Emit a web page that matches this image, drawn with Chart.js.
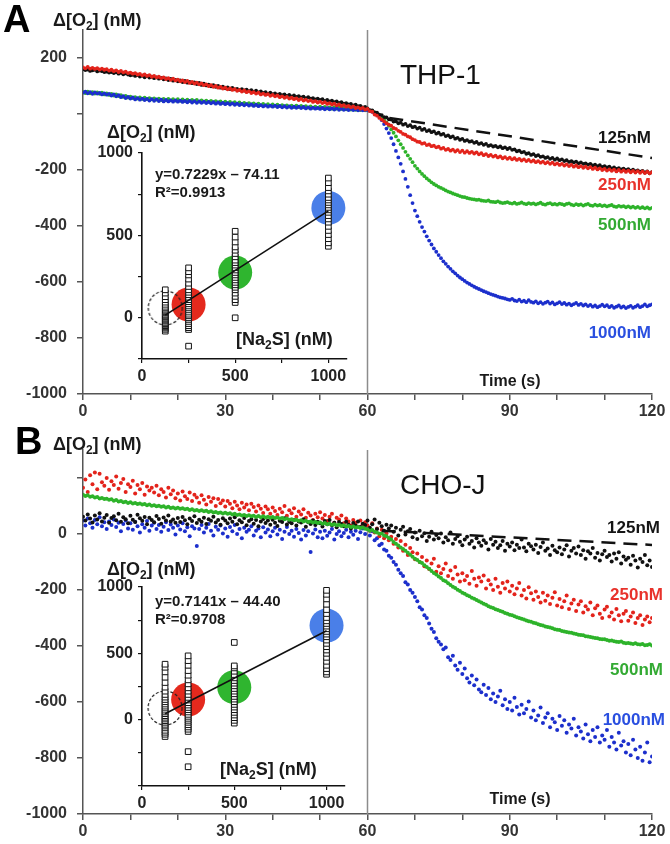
<!DOCTYPE html>
<html>
<head>
<meta charset="utf-8">
<script src="https://cdn.jsdelivr.net/npm/chart.js@4.4.1/dist/chart.umd.min.js"></script>
<style>
  body { margin: 0; background: #fff; }
  #wrap { position: relative; width: 670px; height: 844px; overflow: hidden; }
  canvas { position: absolute; }
</style>
</head>
<body>
<div id="wrap">
  <canvas id="mainA" width="670" height="424" style="left:0;top:0"></canvas>
  <canvas id="mainB" width="670" height="424" style="left:0;top:420px"></canvas>
  <canvas id="insetA" width="260" height="270" style="left:95px;top:120px"></canvas>
  <canvas id="insetB" width="260" height="265" style="left:95px;top:555px"></canvas>
</div>
<script>
// time step of the recorded traces (s); traces start at t = 0
const step = 0.5;

// ---- panel A (THP-1), delta O2 in nM ----
const blackA = [160,157,159,154,156,158,152,155,153,150,
151,148,150,146,149,144,147,142,145,141,
138,140,136,139,134,137,131,135,130,133,
128,131,126,129,124,127,121,125,119,122,
117,120,114,118,112,115,110,113,107,111,
104,108,102,105,99,103,97,100,94,98,
92,95,89,93,88,90,86,89,84,87,
82,85,80,83,77,81,75,78,73,76,
71,74,69,72,67,70,65,68,63,66,
61,64,59,62,57,60,55,57,52,55,
50,53,47,50,45,48,42,45,40,42,
37,39,34,36,31,33,28,29,24,25,
20,14,13,6,5,-2,-4,-11,-12,-19,
-20,-27,-26,-33,-31,-38,-35,-43,-40,-47,
-45,-52,-49,-57,-53,-61,-58,-65,-62,-70,
-67,-74,-71,-79,-76,-83,-80,-88,-85,-92,
-89,-96,-93,-99,-97,-103,-100,-107,-104,-110,
-107,-114,-111,-116,-114,-119,-116,-122,-119,-125,
-121,-128,-126,-133,-131,-137,-135,-142,-140,-146,
-143,-150,-147,-153,-151,-157,-154,-160,-157,-163,
-159,-165,-162,-168,-165,-171,-168,-173,-170,-176,
-173,-178,-176,-181,-178,-184,-181,-186,-183,-189,
-186,-191,-188,-194,-191,-196,-193,-198,-195,-200,
-197,-202,-199,-204,-201,-206,-203,-209,-205,-212,
-208];
const redA = [166,163,168,162,165,161,164,159,162,158,
160,155,158,153,156,150,154,149,151,146,
148,144,146,141,143,138,141,136,139,133,
136,131,133,128,131,125,128,122,126,120,
123,117,120,114,118,111,115,109,112,106,
109,103,106,100,103,97,100,94,97,91,
94,88,91,86,89,83,86,80,84,78,
81,75,78,73,76,70,73,68,71,65,
68,63,66,60,63,58,61,55,58,53,
56,50,54,48,51,46,49,43,46,41,
44,39,42,36,39,34,37,31,34,29,
32,26,29,24,27,21,24,19,22,16,
18,10,8,-2,-6,-14,-20,-26,-33,-38,
-42,-50,-53,-60,-64,-71,-74,-80,-83,-90,
-93,-99,-100,-106,-104,-111,-109,-115,-113,-119,
-117,-124,-121,-128,-125,-131,-127,-134,-129,-136,
-131,-138,-133,-139,-135,-141,-137,-144,-140,-147,
-143,-150,-146,-152,-149,-155,-151,-158,-154,-160,
-156,-162,-158,-164,-160,-166,-162,-168,-164,-170,
-166,-172,-168,-174,-170,-176,-172,-178,-174,-180,
-176,-182,-178,-184,-180,-186,-182,-188,-184,-190,
-186,-192,-188,-194,-190,-196,-192,-198,-194,-200,
-196,-202,-198,-203,-199,-205,-200,-206,-201,-207,
-202,-208,-203,-209,-204,-210,-205,-211,-206,-212,
-208];
const greenA = [79,75,80,74,78,73,77,72,76,70,
74,68,72,66,70,64,67,61,65,59,
62,57,60,55,59,54,58,53,57,52,
56,51,55,50,54,49,54,49,53,48,
53,47,52,46,51,46,50,45,50,44,
49,44,48,43,47,42,46,41,45,40,
44,39,43,38,42,37,41,36,40,35,
39,34,38,33,37,32,36,31,35,30,
34,29,33,28,32,27,31,26,30,25,
30,25,29,24,28,23,27,22,26,21,
26,21,25,20,24,19,24,19,23,18,
22,17,21,16,20,15,19,14,18,13,
15,12,10,6,2,-5,-12,-20,-30,-42,
-55,-67,-80,-94,-108,-121,-135,-148,-160,-172,
-185,-195,-205,-214,-222,-230,-237,-244,-250,-255,
-260,-264,-268,-273,-277,-280,-284,-287,-290,-293,
-296,-297,-300,-302,-304,-305,-307,-306,-309,-310,
-311,-309,-313,-314,-315,-312,-316,-318,-317,-315,
-318,-320,-317,-321,-319,-316,-320,-322,-318,-321,
-319,-323,-320,-317,-322,-324,-320,-318,-323,-321,
-324,-320,-322,-325,-321,-319,-324,-326,-322,-325,
-323,-327,-324,-321,-326,-328,-324,-327,-325,-329,
-326,-330,-327,-325,-330,-332,-328,-331,-329,-333,
-330,-334,-331,-335,-332,-336,-333,-337,-334,-338,
-335];
const blueA = [76,80,74,78,72,77,73,75,70,74,
69,72,66,70,63,67,60,64,57,61,
55,59,52,57,51,55,50,54,48,53,
47,52,46,51,45,50,45,49,44,49,
44,48,43,47,42,47,41,46,40,45,
40,44,39,43,38,42,37,41,36,40,
35,39,34,38,33,37,32,36,31,35,
30,34,29,33,28,32,27,31,26,30,
26,30,25,29,24,28,23,27,22,26,
22,26,21,25,20,24,19,23,19,22,
18,22,17,21,17,20,16,20,15,19,
15,18,14,18,14,17,13,16,13,15,
14,12,8,4,-2,-10,-22,-36,-52,-68,
-86,-108,-132,-155,-178,-205,-232,-260,-290,-318,
-345,-365,-385,-404,-420,-437,-452,-466,-480,-492,
-504,-515,-526,-535,-545,-553,-562,-569,-577,-584,
-590,-596,-602,-607,-612,-617,-621,-625,-629,-633,
-636,-640,-643,-646,-649,-652,-655,-657,-659,-662,
-664,-660,-666,-668,-663,-670,-667,-672,-665,-671,
-674,-669,-676,-672,-678,-674,-670,-677,-673,-680,
-676,-672,-679,-675,-681,-677,-683,-679,-675,-682,
-678,-684,-680,-686,-682,-688,-684,-690,-686,-681,
-687,-683,-690,-685,-692,-688,-684,-691,-687,-693,
-689,-685,-692,-688,-683,-690,-686,-680,-687,-683,
-680];
// baseline drift extrapolation (dashed), [t, nM]
const driftA = [[64.6, -14], [120, -157]];

// ---- panel B (CHO-J) ----
const blackB = [62,48,70,55,41,66,52,74,45,58,
68,40,57,63,49,72,44,60,53,38,
65,51,43,69,56,47,61,35,58,50,
42,64,54,37,59,48,66,45,52,40,
57,43,61,49,35,55,46,63,39,51,
44,58,36,53,47,62,41,50,33,56,
48,38,55,44,60,35,49,42,57,31,
46,53,37,50,28,45,54,39,48,33,
51,40,29,47,43,56,34,44,38,50,
30,45,41,53,26,42,36,48,32,44,
38,27,46,35,50,31,40,24,43,36,
28,44,33,20,39,30,45,25,37,32,
48,22,35,52,18,40,28,12,33,20,
30,8,22,-5,15,26,-2,10,18,-12,
5,-18,12,-8,3,-25,-10,8,-20,-4,
-15,2,-30,-12,-22,5,-35,-18,-8,-28,
-40,-20,-10,-35,-25,-48,-15,-30,-42,-22,
-32,-55,-18,-38,-28,-50,-40,-25,-60,-35,
-45,-30,-58,-38,-50,-20,-48,-62,-35,-44,
-55,-38,-68,-46,-30,-60,-52,-75,-42,-58,
-65,-48,-72,-55,-40,-80,-60,-50,-70,-45,
-75,-58,-88,-62,-70,-50,-85,-68,-95,-72,
-60,-82,-75,-98,-70,-88,-65,-105,-80,-92,
-85,-110,-78,-95,-120,-88,-100,-75,-112,-95,
-118];
const redB = [165,195,150,210,178,220,160,215,185,172,
200,158,188,175,205,162,182,196,150,178,
168,190,145,175,160,182,140,170,155,165,
148,172,138,160,150,130,165,142,155,128,
145,120,152,135,125,148,118,140,130,112,
138,122,105,132,115,128,100,125,110,120,
98,118,108,92,115,102,88,112,95,105,
85,108,96,80,102,90,75,98,88,72,
95,82,68,90,78,100,65,85,74,92,
62,80,70,88,58,76,66,50,72,60,
78,55,68,46,62,72,40,58,52,66,
38,55,45,30,50,40,26,48,35,42,
30,12,38,5,20,-8,15,-15,2,-22,
-10,-35,-18,-48,-25,-60,-38,-75,-50,-65,
-90,-70,-100,-82,-115,-95,-125,-105,-88,-135,
-115,-140,-125,-105,-150,-130,-160,-118,-145,-170,
-140,-165,-150,-178,-132,-160,-185,-155,-170,-148,
-195,-165,-180,-200,-160,-188,-210,-175,-195,-170,
-205,-185,-215,-195,-175,-220,-200,-230,-190,-212,
-235,-205,-225,-245,-210,-238,-220,-250,-228,-208,
-255,-232,-262,-240,-220,-268,-248,-235,-275,-252,
-240,-280,-258,-270,-245,-290,-265,-255,-285,-300,
-270,-260,-295,-280,-305,-268,-290,-312,-285,-275,
-310,-295,-280,-318,-300,-290,-325,-305,-295,-315,
-300];
const greenB = [140,136,138,133,135,130,132,127,129,125,
126,122,124,119,121,116,118,113,115,111,
113,109,111,107,109,105,107,103,105,101,
103,99,101,97,99,95,97,93,95,91,
94,90,92,88,90,86,88,84,86,82,
85,81,83,79,81,77,79,75,77,73,
76,72,74,70,72,68,70,66,68,64,
67,63,65,61,64,60,63,59,62,58,
61,57,59,55,57,53,55,51,53,49,
51,47,49,45,47,43,45,41,43,39,
41,37,39,35,37,33,35,31,33,29,
31,27,29,25,27,23,25,21,23,19,
17,12,14,8,5,1,2,-5,-8,-14,
-20,-29,-35,-41,-48,-54,-60,-67,-74,-81,
-88,-93,-100,-104,-112,-118,-124,-132,-139,-145,
-152,-157,-165,-169,-176,-182,-188,-193,-199,-204,
-210,-213,-219,-222,-228,-231,-236,-240,-245,-249,
-253,-258,-262,-264,-269,-271,-275,-278,-282,-285,
-288,-290,-294,-297,-300,-303,-305,-309,-312,-313,
-317,-319,-322,-325,-327,-330,-332,-334,-337,-340,
-342,-343,-346,-348,-350,-352,-353,-355,-357,-360,
-361,-362,-365,-366,-368,-370,-371,-372,-375,-376,
-376,-379,-381,-380,-383,-385,-386,-384,-388,-390,
-389,-391,-393,-390,-394,-395,-393,-397,-396,-394,
-398];
const blueB = [48,30,55,38,22,50,35,60,28,42,
18,45,32,52,25,40,10,36,48,20,
38,15,44,28,5,35,22,46,12,30,
40,18,32,8,26,42,14,34,22,-2,
30,16,38,10,24,-8,28,20,-43,18,
32,5,22,36,12,-5,26,15,30,2,
20,-10,25,10,32,0,18,-15,22,8,
15,28,-5,12,20,-12,24,5,16,-8,
10,22,-2,15,-18,8,25,0,12,-10,
18,4,-20,14,-5,10,-64,2,16,-12,
8,-15,12,-6,5,18,-20,0,10,-8,
4,15,-12,8,-3,12,-18,6,20,0,
20,-5,10,-22,-15,-40,-35,-55,-60,-78,
-85,-100,-110,-128,-140,-150,-172,-180,-200,-210,
-225,-240,-262,-270,-290,-300,-320,-338,-350,-372,
-385,-395,-412,-405,-440,-450,-435,-470,-485,-460,
-500,-480,-515,-530,-505,-540,-520,-555,-565,-538,
-575,-550,-590,-570,-600,-580,-560,-612,-590,-625,
-600,-630,-585,-618,-645,-610,-640,-625,-598,-655,
-630,-665,-648,-620,-675,-655,-640,-690,-660,-672,
-700,-650,-685,-665,-710,-680,-695,-660,-720,-690,
-705,-730,-680,-715,-740,-700,-725,-690,-745,-720,
-735,-700,-760,-725,-745,-770,-710,-755,-740,-780,
-750,-790,-735,-770,-800,-760,-810,-780,-745,-815,
-795];
const driftB = [[63, 12], [120, -39]];

// ---- insets: delta O2 vs [Na2S] ----
const na2s = [125, 250, 500, 1000];
const insetA = [
  [-81,-70,-62,-55,-48,-40,-35,-28,-20,-14,-8,-2,5,10,16,22,30,38,45,52,60,70,82,95,110,128,150,170],
  [-172,-71,-60,-48,-35,-22,-10,0,12,22,35,48,60,72,85,98,110,125,140,155,170,190,210,235,260,280,303],
  [0,93,110,130,150,170,185,200,215,230,245,260,275,290,305,320,335,350,370,390,410,430,460,490,525],
  [434,455,480,505,530,555,580,600,620,640,655,670,685,700,715,730,750,770,790,820,848]
];
const meanA = [60, 81, 275, 667];
const fitA = { slope: 0.7229, intercept: -74.11 };

const insetB = [
  [-127,-110,-95,-80,-62,-48,-35,-20,-8,5,18,30,45,58,72,88,102,118,135,152,170,190,215,245,280,320,360,395,418],
  [-355,-241,-89,-72,-55,-38,-20,-5,10,25,40,58,75,92,110,128,148,168,190,215,240,270,300,335,370,410,445,481],
  [-26,-5,15,35,55,75,95,115,135,155,175,195,215,235,255,275,295,315,340,365,390,405,582],
  [342,360,385,410,440,470,500,525,550,575,600,625,645,665,685,705,725,745,770,800,830,870,910,945,975]
];
const meanB = [88, 152, 245, 709];
const fitB = { slope: 0.7141, intercept: -44.40 };

// ticks and tick labels
const mainXTicks = [0, 10, 20, 30, 40, 50, 60, 70, 80, 90, 100, 110, 120];
const mainXLabels = [0, 30, 60, 90, 120];
const mainYTicks = [-1000, -800, -600, -400, -200, 0, 200];
const insetXTicks = [0, 250, 500, 750, 1000];
const insetYTicksA = [-250, 0, 250, 500, 750, 1000];
const insetYTicksB = [-500, -250, 0, 250, 500, 750, 1000];
const insetLabels = [0, 500, 1000];

const FONT = 'Liberation Sans, Arial, sans-serif';
const C = { black: '#111111', red: '#e3231b', green: '#2db32a', blue: '#1c2fcc' };
const CIRC = ['none', '#e4291d', '#2fb52f', '#4a7fe8'];
const LBL = { black: '#151515', red: '#e8322b', green: '#33aa33', blue: '#2a4fe0' };

const pts = arr => arr.map((v, i) => ({ x: i * step, y: v }));
const setTicks = list => s => { s.ticks = list.map(v => ({ value: v })); };

function richText(ctx, it) {
  const segs = it.t.split(/(_\d)/).filter(s => s);
  const font = sub => (it.bold ? 'bold ' : '') + Math.round(sub ? it.size * 0.65 : it.size) + 'px ' + FONT;
  let total = 0;
  segs.forEach(s => {
    const sub = s[0] === '_';
    ctx.font = font(sub);
    total += ctx.measureText(sub ? s.slice(1) : s).width;
  });
  let x = it.align === 'right' ? it.x - total : it.align === 'center' ? it.x - total / 2 : it.x;
  ctx.fillStyle = it.color || '#1a1a1a';
  ctx.textBaseline = 'middle';
  ctx.textAlign = 'left';
  segs.forEach(s => {
    const sub = s[0] === '_';
    const txt = sub ? s.slice(1) : s;
    ctx.font = font(sub);
    ctx.fillText(txt, x, it.y + (sub ? it.size * 0.3 : 0));
    x += ctx.measureText(txt).width;
  });
}

const textPlugin = (items, top) => ({
  id: 'texts',
  afterDraw(chart) {
    const ctx = chart.ctx;
    ctx.save();
    items.forEach(it => richText(ctx, Object.assign({}, it, { y: it.y - top })));
    ctx.restore();
  }
});

function mainChart(id, series, drift, hiddenLabel, texts, top, dotR) {
  const ds = [];
  // vertical marker at t = 60 s (Na2S addition)
  ds.push({ data: [{ x: 60, y: -1000 }, { x: 60, y: 300 }], showLine: true, borderColor: '#8c8c8c',
            borderWidth: 1.5, pointRadius: 0, order: 9 });
  ds.push({ data: drift.map(p => ({ x: p[0], y: p[1] })), showLine: true, borderColor: '#111',
            borderWidth: 2.5, borderDash: [14, 8], pointRadius: 0, order: 0 });
  series.forEach(s => {
    ds.push({ data: pts(s.values), showLine: false, pointRadius: dotR, pointBorderWidth: 0,
              pointBackgroundColor: s.color, borderColor: s.color, order: s.order });
  });
  return new Chart(document.getElementById(id), {
    type: 'scatter',
    data: { datasets: ds },
    options: {
      responsive: false, animation: false,
      layout: { padding: { top: 30, right: 18, left: 0, bottom: 0 }, autoPadding: false },
      plugins: { legend: { display: false }, tooltip: { enabled: false } },
      scales: {
        x: {
          type: 'linear', min: 0, max: 120,
          border: { color: '#555', width: 1.5 },
          grid: { drawOnChartArea: false, tickLength: 6, color: '#555', lineWidth: 1.5 },
          afterBuildTicks: setTicks(mainXTicks),
          ticks: { autoSkip: false, maxRotation: 0, padding: 2, color: '#333',
                   font: { family: FONT, size: 16, weight: 'bold' },
                   callback: v => mainXLabels.includes(v) ? String(v) : '' },
          afterFit: s => { s.height = 30; }
        },
        y: {
          min: -1000, max: 300,
          border: { color: '#555', width: 1.5 },
          grid: { drawOnChartArea: false, tickLength: 6, color: '#555', lineWidth: 1.5 },
          afterBuildTicks: setTicks(mainYTicks),
          ticks: { padding: 10, color: '#333',
                   font: { family: FONT, size: 16, weight: 'bold' },
                   callback: v => v === hiddenLabel ? '' : String(v) },
          afterFit: s => { s.width = 83; }
        }
      }
    },
    plugins: [textPlugin(texts, top)]
  });
}

function dashedCircle() {
  const c = document.createElement('canvas');
  c.width = 38; c.height = 38;
  const g = c.getContext('2d');
  g.setLineDash([3, 2]);
  g.strokeStyle = '#222';
  g.lineWidth = 1.2;
  g.beginPath(); g.arc(19, 19, 17, 0, Math.PI * 2); g.stroke();
  return c;
}

function insetChart(id, cols, means, fit, yMin, yTicks, pad) {
  const ds = [];
  ds.push({ data: [{ x: 125, y: fit.slope * 125 + fit.intercept }, { x: 1000, y: fit.slope * 1000 + fit.intercept }],
            showLine: true, borderColor: '#111', borderWidth: 1.6, pointRadius: 0, order: 0 });
  cols.forEach((col, i) => {
    ds.push({ data: col.map(v => ({ x: na2s[i], y: v })), pointStyle: 'rect', pointRadius: 4,
              pointBackgroundColor: '#fff', pointBorderColor: '#111', pointBorderWidth: 1, order: 1 });
  });
  means.forEach((m, i) => {
    if (i === 0) {
      ds.push({ data: [{ x: na2s[i], y: m }], pointStyle: dashedCircle(), order: 2 });
    } else {
      ds.push({ data: [{ x: na2s[i], y: m }], pointRadius: 17, pointBorderWidth: 0,
                pointBackgroundColor: CIRC[i], order: 2 });
    }
  });
  return new Chart(document.getElementById(id), {
    type: 'scatter',
    data: { datasets: ds },
    options: {
      responsive: false, animation: false,
      layout: { padding: { top: pad.top, right: pad.right, left: 0, bottom: 0 }, autoPadding: false },
      plugins: { legend: { display: false }, tooltip: { enabled: false } },
      scales: {
        x: {
          type: 'linear', min: 0, max: 1100,
          border: { color: '#111', width: 1.6 },
          grid: { drawOnChartArea: false, tickLength: 4, color: '#111', lineWidth: 1.2 },
          afterBuildTicks: setTicks(insetXTicks),
          ticks: { autoSkip: false, maxRotation: 0, padding: 4, color: '#222',
                   font: { family: FONT, size: 16, weight: 'bold' },
                   callback: v => insetLabels.includes(v) ? String(v) : '' },
          afterFit: s => { s.height = pad.xh; }
        },
        y: {
          min: yMin, max: 1000,
          border: { color: '#111', width: 1.6 },
          grid: { drawOnChartArea: false, tickLength: 4, color: '#111', lineWidth: 1.2 },
          afterBuildTicks: setTicks(yTicks),
          ticks: { padding: 5, color: '#222',
                   font: { family: FONT, size: 16, weight: 'bold' },
                   callback: v => insetLabels.includes(v) ? String(v) : '' },
          afterFit: s => { s.width = 47; }
        }
      }
    }
  });
}

const textsA = [
  { t: 'A', x: 3, y: 22, size: 38, bold: true, color: '#000' },
  { t: 'Δ[O_2] (nM)', x: 53, y: 21, size: 18, bold: true },
  { t: 'THP-1', x: 400, y: 76, size: 28, color: '#111' },
  { t: 'Time (s)', x: 510, y: 382, size: 16, bold: true, align: 'center' },
  { t: '125nM', x: 651, y: 138, size: 17, bold: true, align: 'right', color: LBL.black },
  { t: '250nM', x: 651, y: 185, size: 17, bold: true, align: 'right', color: LBL.red },
  { t: '500nM', x: 651, y: 225, size: 17, bold: true, align: 'right', color: LBL.green },
  { t: '1000nM', x: 651, y: 333, size: 17, bold: true, align: 'right', color: LBL.blue },
  { t: 'Δ[O_2] (nM)', x: 107, y: 133, size: 18, bold: true },
  { t: 'y=0.7229x – 74.11', x: 155, y: 175, size: 15, bold: true },
  { t: 'R²=0.9913', x: 155, y: 193, size: 15, bold: true },
  { t: '[Na_2S] (nM)', x: 236, y: 340, size: 18, bold: true }
];
const textsB = [
  { t: 'B', x: 15, y: 444, size: 38, bold: true, color: '#000' },
  { t: 'Δ[O_2] (nM)', x: 53, y: 445, size: 18, bold: true },
  { t: 'CHO-J', x: 400, y: 486, size: 28, color: '#111' },
  { t: 'Time (s)', x: 520, y: 800, size: 16, bold: true, align: 'center' },
  { t: '125nM', x: 660, y: 528, size: 17, bold: true, align: 'right', color: LBL.black },
  { t: '250nM', x: 663, y: 595, size: 17, bold: true, align: 'right', color: LBL.red },
  { t: '500nM', x: 663, y: 670, size: 17, bold: true, align: 'right', color: LBL.green },
  { t: '1000nM', x: 665, y: 720, size: 17, bold: true, align: 'right', color: LBL.blue },
  { t: 'Δ[O_2] (nM)', x: 107, y: 570, size: 18, bold: true },
  { t: 'y=0.7141x – 44.40', x: 155, y: 602, size: 15, bold: true },
  { t: 'R²=0.9708', x: 155, y: 620, size: 15, bold: true },
  { t: '[Na_2S] (nM)', x: 220, y: 770, size: 18, bold: true }
];

mainChart('mainA', [
  { values: redA, color: C.red, order: 1 },
  { values: blackA, color: C.black, order: 2 },
  { values: blueA, color: C.blue, order: 3 },
  { values: greenA, color: C.green, order: 4 }
], driftA, 0, textsA, 0, 1.9);

mainChart('mainB', [
  { values: greenB, color: C.green, order: 1 },
  { values: blackB, color: C.black, order: 2 },
  { values: redB, color: C.red, order: 3 },
  { values: blueB, color: C.blue, order: 4 }
], driftB, 200, textsB, 420, 2);

insetChart('insetA', insetA, meanA, fitA, -250, insetYTicksA, { top: 33, right: 8, xh: 31 });
insetChart('insetB', insetB, meanB, fitB, -500, insetYTicksB, { top: 32, right: 10, xh: 34 });
</script>
</body>
</html>
